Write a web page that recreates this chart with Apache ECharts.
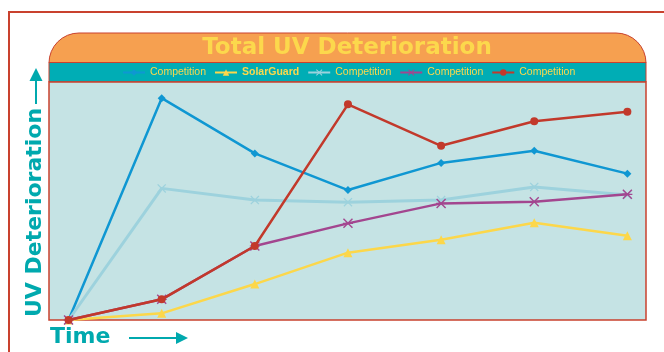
<!DOCTYPE html>
<html>
<head>
<meta charset="utf-8">
<script src="https://cdn.jsdelivr.net/npm/echarts@6/dist/echarts.min.js"></script>
<style>
  html, body { margin: 0; padding: 0; background: #ffffff; }
  #chart { width: 664px; height: 352px; }
</style>
</head>
<body>
<div id="chart"></div>
<script>
// ---- data ----
var chartTitle = 'Total UV Deterioration';
var yAxisTitle = 'UV Deterioration';
var xAxisTitle = 'Time';
var timePoints = [0, 1, 2, 3, 4, 5, 6];
var seriesNames = ['Competition A', 'SolarGuard', 'Competition B', 'Competition C', 'Competition D'];
var legendLabels = ['Competition', 'SolarGuard', 'Competition', 'Competition', 'Competition'];
var competitionA = [0, 93.2, 70.0, 54.6, 66.0, 71.1, 61.5];
var solarGuard   = [0, 2.8, 15.1, 28.3, 33.7, 40.9, 35.4];
var competitionB = [0, 55.3, 50.4, 49.5, 50.4, 55.9, 52.5];
var competitionC = [0, 8.7, 31.1, 40.6, 49.0, 49.7, 52.8];
var competitionD = [0, 8.7, 31.1, 90.6, 73.2, 83.5, 87.5];

var allValues = [competitionA, solarGuard, competitionB, competitionC, competitionD];
var colors = ['#0f97d2', '#fcd74a', '#9dd2dd', '#a3468f', '#c2392b'];
var xPath = 'path://M1,0 L5,4 L9,0 L10,1 L6,5 L10,9 L9,10 L5,6 L1,10 L0,9 L4,5 L0,1 Z';
var starPath = 'path://M1,0 L5,4 L9,0 L10,1 L6,5 L10,9 L9,10 L5,6 L1,10 L0,9 L4,5 L0,1 Z M0,4.4 L10,4.4 L10,5.6 L0,5.6 Z';
var symbols = ['diamond', 'triangle', xPath, starPath, 'circle'];
var symbolSizes = [8, 9, 9, 10, 8];
var lineWidths = [2.5, 2.5, 3, 2.5, 2.5];

function pairs(vals) {
  return vals.map(function (v, i) { return [timePoints[i], v]; });
}

var series = allValues.map(function (vals, k) {
  return {
    name: seriesNames[k],
    type: 'line',
    data: pairs(vals),
    symbol: symbols[k],
    symbolSize: symbolSizes[k],
    showAllSymbol: true,
    lineStyle: { color: colors[k], width: lineWidths[k] },
    itemStyle: { color: colors[k] },
    emphasis: { disabled: true },
    z: 2 + k
  };
});

var chart = echarts.init(document.getElementById('chart'), null, { renderer: 'canvas' });
var teal = '#00a9ae';
var border = '#c9412e';

chart.setOption({
  animation: false,
  backgroundColor: '#ffffff',
  grid: {
    left: 49, top: 82, width: 597, height: 238,
    show: true, backgroundColor: '#c5e3e4', borderColor: border, borderWidth: 1.5
  },
  xAxis: { type: 'value', min: -0.21, max: 6.2, show: false },
  yAxis: { type: 'value', min: 0, max: 100, show: false },
  legend: {
    data: seriesNames,
    top: 67,
    left: 122,
    padding: 0,
    itemWidth: 22,
    itemHeight: 8,
    itemGap: 8,
    selectedMode: false,
    formatter: function (name) {
      var idx = seriesNames.indexOf(name);
      var label = legendLabels[idx];
      return name === 'SolarGuard' ? '{b|' + label + '}' : label;
    },
    textStyle: {
      color: '#fcd84c', fontSize: 10.5, fontFamily: 'Liberation Sans, Arial, sans-serif',
      rich: { b: { color: '#fcd84c', fontSize: 10.5, fontWeight: 'bold', fontFamily: 'Liberation Sans, Arial, sans-serif' } }
    }
  },
  graphic: [
    { type: 'rect', silent: true, z: -10, shape: { x: 9, y: 12, width: 720, height: 400 },
      style: { fill: 'none', stroke: border, lineWidth: 2 } },
    { type: 'rect', silent: true, z: -5, shape: { x: 49, y: 33, width: 597, height: 30, r: [30, 30, 0, 0] },
      style: { fill: '#f6a050', stroke: border, lineWidth: 1 } },
    { type: 'rect', silent: true, z: -4, shape: { x: 49, y: 62.5, width: 597, height: 19.5 },
      style: { fill: '#00adb5', stroke: border, lineWidth: 1 } },
    { type: 'text', silent: true, z: 10, x: 347, y: 48,
      style: { text: chartTitle, fill: '#fcd84c', font: 'bold 23px "DejaVu Sans"', align: 'center', verticalAlign: 'middle' } },
    { type: 'polygon', silent: true, shape: { points: [[29.5, 81], [36, 68], [42.5, 81]] }, style: { fill: teal } },
    { type: 'line', silent: true, shape: { x1: 36, y1: 80, x2: 36, y2: 104 }, style: { stroke: teal, lineWidth: 2 } },
    { type: 'text', silent: true, x: 35, y: 212.5, rotation: Math.PI / 2,
      style: { text: yAxisTitle, fill: teal, font: 'bold 22px "DejaVu Sans"', align: 'center', verticalAlign: 'middle' } },
    { type: 'text', silent: true, x: 50, y: 337,
      style: { text: xAxisTitle, fill: teal, font: 'bold 22px "DejaVu Sans"', align: 'left', verticalAlign: 'middle' } },
    { type: 'line', silent: true, shape: { x1: 129, y1: 338, x2: 178, y2: 338 }, style: { stroke: teal, lineWidth: 2 } },
    { type: 'polygon', silent: true, shape: { points: [[176, 332], [188, 338], [176, 344]] }, style: { fill: teal } }
  ],
  series: series
});
</script>
</body>
</html>
